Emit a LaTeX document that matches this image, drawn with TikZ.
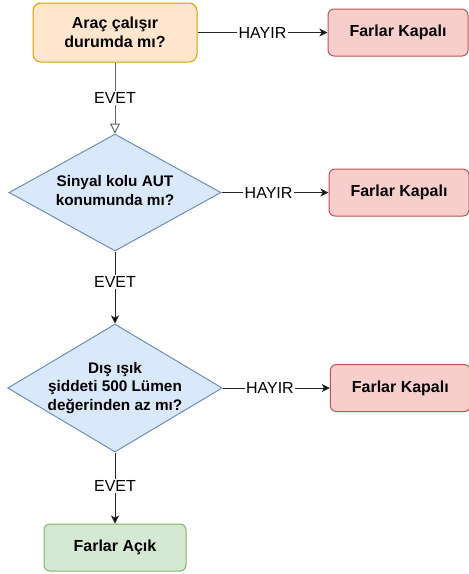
\documentclass[tikz,border=0pt]{standalone}
\usepackage{fontspec}
\setmainfont{Liberation Sans}
\usepackage{tikz}
\usetikzlibrary{arrows.meta,positioning,shapes.geometric}

\definecolor{startfill}{HTML}{FFE6CC}
\definecolor{startdraw}{HTML}{D79B00}
\definecolor{nofill}{HTML}{F8CECC}
\definecolor{nodraw}{HTML}{B85450}
\definecolor{askfill}{HTML}{DAE8FC}
\definecolor{askdraw}{HTML}{6C8EBF}
\definecolor{yesfill}{HTML}{D5E8D4}
\definecolor{yesdraw}{HTML}{82B366}

\begin{document}
\begin{tikzpicture}[line width=0.75pt,
  start node/.style={rectangle,rounded corners=6pt,fill=startfill,draw=startdraw,
    minimum width=123pt,minimum height=44.25pt,align=center,
    font=\fontsize{12}{14.5}\selectfont\bfseries},
  off node/.style={rectangle,rounded corners=4.5pt,fill=nofill,draw=nodraw,
    minimum width=105pt,minimum height=35.25pt,
    font=\fontsize{12}{14.5}\selectfont\bfseries},
  on node/.style={rectangle,rounded corners=4.5pt,fill=yesfill,draw=yesdraw,
    minimum width=106.5pt,minimum height=35.25pt,
    font=\fontsize{12}{14.5}\selectfont\bfseries},
  ask node/.style={diamond,fill=askfill,draw=askdraw,inner sep=0pt},
  ask text/.style={align=center,inner sep=0pt,font=\fontsize{11.5}{14}\selectfont\bfseries},
  lbl/.style={fill=white,inner sep=1pt,font=\fontsize{12}{14}\selectfont}]

  \useasboundingbox (0,0) rectangle (351pt,-430.5pt);

  \node[start node] (start) at (86.25pt,-24.4pt) {Araç çalışır\\durumda mı?};
  \node[off node] (off1) [right=97.5pt of start] {Farlar Kapalı};
  \node[ask node] (ask1) [minimum width=159pt,minimum height=87.75pt,below=53.25pt of start] {};
  \node[ask text] (ask1t) [yshift=1.5pt] at (ask1) {Sinyal kolu AUT\\konumunda mı?};
  \node[off node] (off2) [right=80.25pt of ask1] {Farlar Kapalı};
  \node[ask node] (ask2) [minimum width=161pt,minimum height=96pt,below=54pt of ask1] {};
  \node[ask text] (ask2t) at (ask2) {Dış ışık\\şiddeti 500 Lümen\\değerinden az mı?};
  \node[off node] (off3) [right=80.25pt of ask2] {Farlar Kapalı};
  \node[on node] (on) [below=53.25pt of ask2] {Farlar Açık};

  \path[draw=black!60,-{Triangle[open,length=7.5pt,width=7.5pt,fill=white]}]
    (start) edge node[lbl] {EVET} (ask1);

  \path[draw=black!85,-{Stealth[length=6pt,width=6pt,inset=1.5pt]}]
    (start) edge node[lbl] {HAYIR} (off1)
    (ask1) edge node[lbl,pos=0.44] {HAYIR} (off2)
    (ask2) edge node[lbl,pos=0.44] {HAYIR} (off3)
    (ask1) edge node[lbl,pos=0.42] {EVET} (ask2)
    (ask2) edge node[lbl,pos=0.47] {EVET} (on);
\end{tikzpicture}
\end{document}
